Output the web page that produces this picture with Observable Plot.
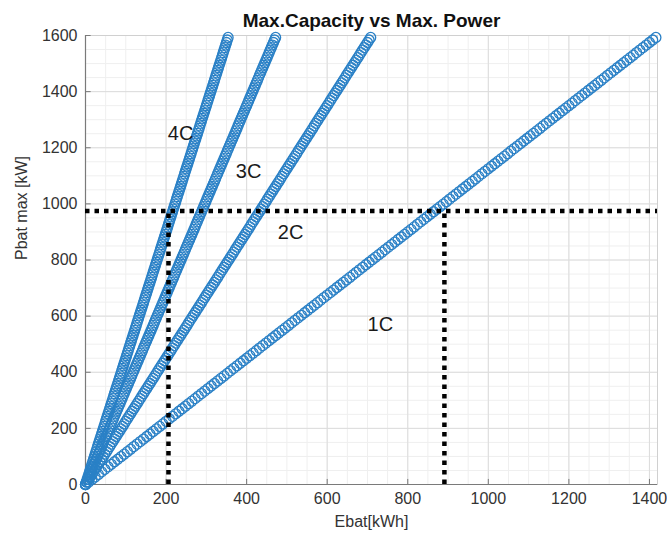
<!DOCTYPE html>
<html>
<head>
<meta charset="utf-8">
<script src="https://cdn.jsdelivr.net/npm/d3@7"></script>
<script src="https://cdn.jsdelivr.net/npm/@observablehq/plot@0.6"></script>
<style>
  html, body { margin: 0; padding: 0; background: white; }
</style>
</head>
<body>
<div id="chart"></div>
<script>
// ---- Data ----
const seriesNames = ["1C", "2C", "3C", "4C"];
// slope of Pbat max [kW] vs Ebat [kWh] for each C-rate line
const seriesSlopes = [1.125, 2.25, 3.375, 4.5];
// sampled power levels (kW) of the circle markers along every line
const powerLevels = [
  0,9,18,27,36,45,54,63,72,81,
  90,99,108,117,126,135,144,153,162,171,
  180,189,198,207,216,225,234,243,252,261,
  270,279,288,297,306,315,324,333,342,351,
  360,369,378,387,396,405,414,423,432,441,
  450,459,468,477,486,495,504,513,522,531,
  540,549,558,567,576,585,594,603,612,621,
  630,639,648,657,666,675,684,693,702,711,
  720,729,738,747,756,765,774,783,792,801,
  810,819,828,837,846,855,864,873,882,891,
  900,909,918,927,936,945,954,963,972,981,
  990,999,1008,1017,1026,1035,1044,1053,1062,1071,
  1080,1089,1098,1107,1116,1125,1134,1143,1152,1161,
  1170,1179,1188,1197,1206,1215,1224,1233,1242,1251,
  1260,1269,1278,1287,1296,1305,1314,1323,1332,1341,
  1350,1359,1368,1377,1386,1395,1404,1413,1422,1431,
  1440,1449,1458,1467,1476,1485,1494,1503,1512,1521,
  1530,1539,1548,1557,1566,1575,1584,1593
];
// dotted reference lines
const refPower = [975];
const refEnergy = [206, 891];
// in-plot labels
const labelNames = ["4C", "3C", "2C", "1C"];
const labelEbat = [236, 405, 509, 732];
const labelPbat = [1251, 1115, 898, 570];
// ticks
const xTicks = [0, 200, 400, 600, 800, 1000, 1200, 1400];
const yTicks = [0, 200, 400, 600, 800, 1000, 1200, 1400, 1600];
const xMinorTicks = d3.range(0, 1421, 50);
const yMinorTicks = d3.range(0, 1601, 50);

const title = "Max.Capacity vs Max. Power";
const xLabel = "Ebat[kWh]";
const yLabel = "Pbat max [kW]";

// ---- Build table ----
const points = [];
seriesNames.forEach((name, i) => {
  powerLevels.forEach(p => points.push({series: name, E: p / seriesSlopes[i], P: p}));
});
const labels = labelNames.map((t, i) => ({t, x: labelEbat[i], y: labelPbat[i]}));

const blue = "#2a80c6";
const font = "Liberation Sans, Arial, Helvetica, sans-serif";

const chart = Plot.plot({
  width: 667,
  height: 540,
  marginLeft: 85,
  marginRight: 10,
  marginTop: 35,
  marginBottom: 56,
  x: {domain: [0, 1420]},
  y: {domain: [0, 1600]},
  style: {fontFamily: font, fontSize: "16px", background: "white", color: "#262626", overflow: "visible"},
  marks: [
    Plot.ruleX(xMinorTicks, {x: d => d, stroke: "#efefef", strokeWidth: 1}),
    Plot.ruleY(yMinorTicks, {y: d => d, stroke: "#efefef", strokeWidth: 1}),
    Plot.ruleX(xTicks, {x: d => d, stroke: "#dcdcdc", strokeWidth: 1}),
    Plot.ruleY(yTicks, {y: d => d, stroke: "#dcdcdc", strokeWidth: 1}),
    Plot.frame({stroke: "#d0d0d0"}),
    Plot.ruleX([0], {stroke: "#7a7a7a", strokeWidth: 1.2}),
    Plot.ruleY([0], {stroke: "#7a7a7a", strokeWidth: 1.2}),
    Plot.ruleX(xTicks, {x: d => d, y1: 0, y2: 18, stroke: "#7a7a7a"}),
    Plot.ruleY(yTicks, {y: d => d, x1: 0, x2: 14, stroke: "#7a7a7a"}),
    Plot.axisX(xTicks, {tickSize: 0, tickPadding: 8, fontSize: 16, label: null, fill: "#333", tickFormat: d => String(d)}),
    Plot.axisY(yTicks, {tickSize: 0, tickPadding: 8, fontSize: 16, label: null, fill: "#333", tickFormat: d => String(d)}),
    Plot.dot(points, {x: "E", y: "P", r: 5, stroke: blue, strokeWidth: 1.3, fill: "none"}),
    Plot.ruleY(refPower, {y: d => d, stroke: "black", strokeWidth: 4.5, strokeDasharray: "4.5,5"}),
    Plot.ruleX(refEnergy, {x: d => d, y1: 0, y2: refPower[0], stroke: "black", strokeWidth: 4.5, strokeDasharray: "4.5,5"}),
    Plot.text(labels, {x: "x", y: "y", text: "t", fontSize: 20, fill: "#1a1a1a"}),
    Plot.text([title], {frameAnchor: "top", dy: -22, text: d => d, fontSize: 19, fontWeight: "bold", fill: "#111"}),
    Plot.text([xLabel], {frameAnchor: "bottom", dy: 42, text: d => d, fontSize: 16, fill: "#333"}),
    Plot.text([yLabel], {frameAnchor: "left", dx: -64, rotate: -90, text: d => d, fontSize: 16, fill: "#333"})
  ]
});
document.getElementById("chart").appendChild(chart);
</script>
</body>
</html>
